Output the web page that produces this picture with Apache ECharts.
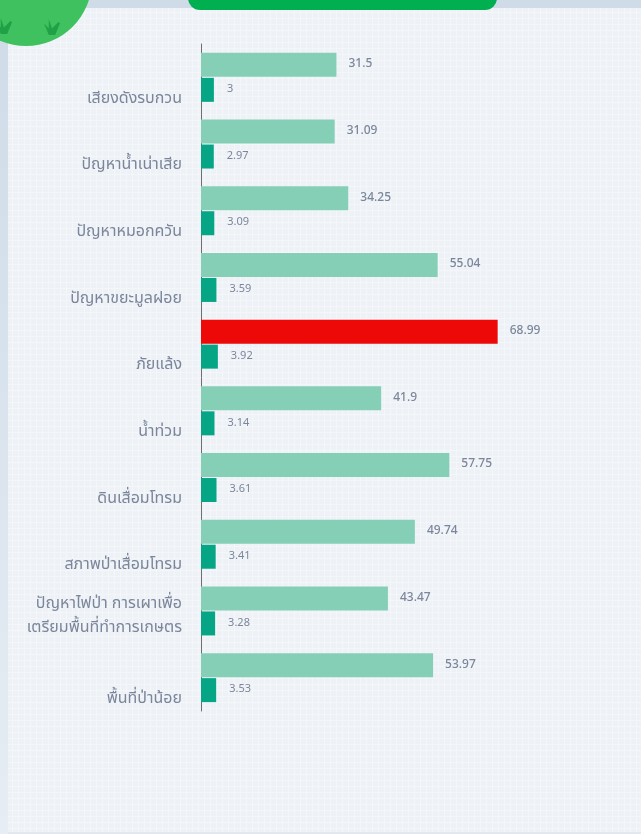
<!DOCTYPE html>
<html lang="th">
<head>
  <meta charset="UTF-8">
  <script src="https://cdn.jsdelivr.net/npm/echarts@6.0.0/dist/echarts.min.js"></script>
  <style>
    html, body { margin: 0; padding: 0; background: #cfdbe7; }
  </style>
</head>
<body>
  <div id="main" style="width: 641px;height:834px;"></div>
  <script type="text/javascript">

    // หมวดปัญหา (บนลงล่าง)
    const categories = [
      'เสียงดังรบกวน',
      'ปัญหาน้ำเน่าเสีย',
      'ปัญหาหมอกควัน',
      'ปัญหาขยะมูลฝอย',
      'ภัยแล้ง',
      'น้ำท่วม',
      'ดินเสื่อมโทรม',
      'สภาพป่าเสื่อมโทรม',
      'ปัญหาไฟป่า การเผาเพื่อ\nเตรียมพื้นที่ทำการเกษตร',
      'พื้นที่ป่าน้อย'
    ];
    // แถบสีอ่อน
    const percentValues = [31.5, 31.09, 34.25, 55.04, 68.99, 41.9, 57.75, 49.74, 43.47, 53.97];
    // แถบสีเข้ม
    const scoreValues = [3, 2.97, 3.09, 3.59, 3.92, 3.14, 3.61, 3.41, 3.28, 3.53];

    const lightColor = '#86cfb7';
    const darkColor = '#06a585';
    const topColor = '#ee0909';
    const textColor = '#7b869b';
    const font = "'Noto Sans Thai', 'Noto Sans', sans-serif";

    // ลายตารางพื้นหลัง (จางๆ)
    const tile = document.createElement('canvas');
    tile.width = 6; tile.height = 6;
    const ctx = tile.getContext('2d');
    ctx.fillStyle = '#eef2f7';
    ctx.fillRect(0, 0, 6, 6);
    ctx.fillStyle = '#f4f7fa';
    ctx.fillRect(0, 0, 6, 1);
    ctx.fillRect(0, 0, 1, 6);

    const maxVal = Math.max(...percentValues);
    const percentData = percentValues.map(v =>
      v === maxVal ? { value: v, itemStyle: { color: topColor } } : v
    );

    // กอหญ้าเล็กๆ บนวงกลมสีเขียว
    function tuft(x, y) {
      const pts = [[0, 4], [3, 8], [3, 1], [5, 8], [9, 3], [10, 4], [7, 13], [3, 13]];
      return {
        type: 'polygon', z: -4,
        shape: { points: pts.map(p => [x + p[0] * 1.6, y + p[1] * 1.3]) },
        style: { fill: '#22a047' }
      };
    }

    var myChart = echarts.init(document.getElementById('main'));
    myChart.setOption({
      backgroundColor: 'transparent',
      animation: false,
      graphic: [
        { type: 'rect', z: -11, shape: { x: 0, y: 8, width: 8, height: 826 },
          style: { fill: { type: 'linear', x: 0, y: 0, x2: 0, y2: 1, colorStops: [
            { offset: 0, color: '#cfdbe7' }, { offset: 1, color: '#e6edf4' }] } } },
        { type: 'rect', z: -10, shape: { x: 8, y: 8, width: 641, height: 824 },
          style: { fill: { image: tile, repeat: 'repeat' } } },
        { type: 'rect', z: -9, shape: { x: 8, y: 832, width: 641, height: 2 },
          style: { fill: '#e2e8ef' } },
        // ตกแต่งด้านบน
        { type: 'circle', z: -5, shape: { cx: 26, cy: -20, r: 66 },
          style: { fill: '#3ec15e' } },
        tuft(-4, 17),
        tuft(44, 18),
        { type: 'rect', z: -5, shape: { x: 188, y: -20, width: 309, height: 30, r: 12 },
          style: { fill: '#00b050' } }
      ],
      grid: {
        left: 201,
        top: 44,
        width: 430,
        height: 667,
        containLabel: false
      },
      xAxis: {
        type: 'value',
        min: 0,
        max: 100,
        show: false
      },
      yAxis: {
        type: 'category',
        inverse: true,
        data: categories,
        axisLine: { show: true, lineStyle: { color: '#6f6f6f', width: 1 } },
        axisTick: { show: false },
        splitLine: { show: false },
        axisLabel: {
          margin: 19,
          formatter: function (v) {
            const lines = v.split('\n');
            if (lines.length > 1) {
              return lines.map(l => '{m|' + l + '}').join('\n');
            }
            return '{s|' + v + '}';
          },
          rich: {
            s: { color: textColor, fontSize: 16, fontFamily: font, padding: [44, 0, 0, 0] },
            m: { color: textColor, fontSize: 16, fontFamily: font, lineHeight: 24, padding: [12, 0, 0, 0] }
          }
        }
      },
      series: [
        {
          name: 'ร้อยละ',
          type: 'bar',
          data: percentData,
          barWidth: 24,
          barGap: '4%',
          itemStyle: { color: lightColor },
          label: {
            show: true,
            position: 'right',
            distance: 12,
            color: textColor,
            fontSize: 12,
            fontWeight: 500,
            fontFamily: font
          }
        },
        {
          name: 'คะแนน',
          type: 'bar',
          data: scoreValues,
          barWidth: 24,
          itemStyle: { color: darkColor },
          label: {
            show: true,
            position: 'right',
            distance: 13,
            color: textColor,
            fontSize: 11,
            fontFamily: font
          }
        }
      ]
    });
  </script>
</body>
</html>
